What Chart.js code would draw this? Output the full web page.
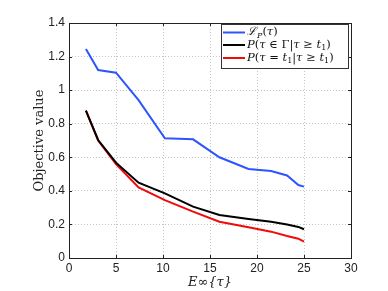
<!DOCTYPE html>
<html>
<head>
<meta charset="utf-8">
<script src="https://cdn.jsdelivr.net/npm/chart.js@4"></script>
<style>
  html, body { margin: 0; padding: 0; background: #fff; }
  #wrap { width: 388px; height: 291px; }
</style>
</head>
<body>
<div id="wrap"><canvas id="chart" width="388" height="291"></canvas></div>
<script>
// Data
const xValues = [1.8, 3.1, 5.0, 7.4, 10.2, 13.2, 16.0, 19.1, 21.5, 23.2, 24.4, 25.0];
const lpValues = [1.245, 1.12, 1.104, 0.94, 0.713, 0.707, 0.60, 0.53, 0.518, 0.492, 0.435, 0.425];
const gammaValues = [0.878, 0.703, 0.568, 0.449, 0.385, 0.306, 0.256, 0.232, 0.216, 0.200, 0.185, 0.171];
const t1Values = [0.878, 0.700, 0.560, 0.421, 0.345, 0.276, 0.216, 0.183, 0.157, 0.131, 0.115, 0.097];
const xTickLabels = ['0', '5', '10', '15', '20', '25', '30'];
const yTickLabels = ['0', '0.2', '0.4', '0.6', '0.8', '1', '1.2', '1.4'];

const seriesColors = ['rgb(45, 85, 255)', 'rgb(0, 0, 0)', 'rgb(240, 10, 10)'];

function toPoints(ys) {
  return xValues.map((x, i) => ({ x: x, y: ys[i] }));
}

// frame, inner tick marks and the legend box (MATLAB style)
const framePlugin = {
  id: 'frame',
  afterDraw(chart) {
    const ctx = chart.ctx;
    const a = chart.chartArea;
    const xs = chart.scales.x, ys = chart.scales.y;
    ctx.save();
    ctx.strokeStyle = '#222';
    ctx.lineWidth = 1;
    ctx.beginPath();
    xs.ticks.forEach(t => {
      const px = Math.round(xs.getPixelForValue(t.value)) + 0.5;
      ctx.moveTo(px, a.bottom); ctx.lineTo(px, a.bottom - 3);
      ctx.moveTo(px, a.top); ctx.lineTo(px, a.top + 3);
    });
    ys.ticks.forEach(t => {
      const py = Math.round(ys.getPixelForValue(t.value)) + 0.5;
      ctx.moveTo(a.left, py); ctx.lineTo(a.left + 3, py);
      ctx.moveTo(a.right, py); ctx.lineTo(a.right - 3, py);
    });
    ctx.stroke();
    ctx.strokeRect(Math.round(a.left) + 0.5, Math.round(a.top) + 0.5,
      Math.round(a.right - a.left), Math.round(a.bottom - a.top));

    // legend
    const bx = 221, by = 24, bw = 127, bh = 44;
    ctx.fillStyle = '#fff';
    ctx.fillRect(bx, by, bw, bh);
    ctx.strokeStyle = '#333';
    ctx.strokeRect(bx + 0.5, by + 0.5, bw, bh);
    const rows = [32.5, 45, 58];
    ctx.textBaseline = 'middle';
    chart.data.datasets.forEach((ds, i) => {
      ctx.strokeStyle = ds.borderColor;
      ctx.lineWidth = 2;
      ctx.beginPath();
      ctx.moveTo(223, rows[i]); ctx.lineTo(245, rows[i]);
      ctx.stroke();
      ctx.fillStyle = '#111';
      let x = 247;
      ds.legendParts.forEach(p => {
        if (p.sub) ctx.font = (p.italic ? 'italic ' : '') + '8px "DejaVu Serif"';
        else ctx.font = (p.italic ? 'italic ' : '') + '11.5px "DejaVu Serif"';
        ctx.fillText(p.t, x, rows[i] + (p.sub ? 3 : 0));
        x += ctx.measureText(p.t).width;
      });
    });
    ctx.restore();
  }
};

const ctx = document.getElementById('chart').getContext('2d');
new Chart(ctx, {
  type: 'scatter',
  data: {
    datasets: [
      {
        label: 'LP(τ)',
        legendParts: [{ t: 'ℒ', italic: true }, { t: 'P', sub: true, italic: true }, { t: '(' }, { t: 'τ', italic: true }, { t: ')' }],
        data: toPoints(lpValues),
        borderColor: seriesColors[0]
      },
      {
        label: 'P(τ ∈ Γ|τ ≥ t1)',
        legendParts: [{ t: 'P', italic: true }, { t: '(' }, { t: 'τ', italic: true }, { t: ' ∈ Γ|' }, { t: 'τ', italic: true }, { t: ' ≥ ' }, { t: 't', italic: true }, { t: '1', sub: true }, { t: ')' }],
        data: toPoints(gammaValues),
        borderColor: seriesColors[1]
      },
      {
        label: 'P(τ = t1|τ ≥ t1)',
        legendParts: [{ t: 'P', italic: true }, { t: '(' }, { t: 'τ', italic: true }, { t: ' = ' }, { t: 't', italic: true }, { t: '1', sub: true }, { t: '|' }, { t: 'τ', italic: true }, { t: ' ≥ ' }, { t: 't', italic: true }, { t: '1', sub: true }, { t: ')' }],
        data: toPoints(t1Values),
        borderColor: seriesColors[2]
      }
    ].map(ds => Object.assign(ds, { showLine: true, borderWidth: 2, pointRadius: 0, tension: 0, fill: false }))
  },
  options: {
    responsive: false,
    animation: false,
    layout: { padding: { top: 23, right: 37, left: 0, bottom: 0 } },
    plugins: { legend: { display: false }, tooltip: { enabled: false } },
    scales: {
      x: {
        type: 'linear',
        min: 0, max: 30,
        ticks: {
          stepSize: 5,
          color: '#222',
          padding: 3,
          font: { family: '"Liberation Sans"', size: 12 },
          callback: (v, i) => xTickLabels[i]
        },
        grid: { color: '#c4c4c4', drawTicks: false },
        border: { display: false, dash: [1, 2] },
        title: {
          display: true,
          text: 'E∞{τ}',
          color: '#222',
          padding: { top: 0, bottom: 1 },
          font: { family: '"DejaVu Serif"', size: 13, style: 'italic' }
        },
        afterFit(scale) { scale.height = 33; }
      },
      y: {
        type: 'linear',
        min: 0, max: 1.4,
        ticks: {
          stepSize: 0.2,
          color: '#222',
          padding: 4,
          font: { family: '"Liberation Sans"', size: 12 },
          callback: (v, i) => yTickLabels[i]
        },
        grid: { color: '#c4c4c4', drawTicks: false },
        border: { display: false, dash: [1, 2] },
        title: {
          display: true,
          text: 'Objective value',
          color: '#222',
          padding: { top: 32, bottom: 0 },
          font: { family: '"DejaVu Serif"', size: 13 }
        },
        afterFit(scale) { scale.width = 69; }
      }
    }
  },
  plugins: [framePlugin]
});
</script>
</body>
</html>
